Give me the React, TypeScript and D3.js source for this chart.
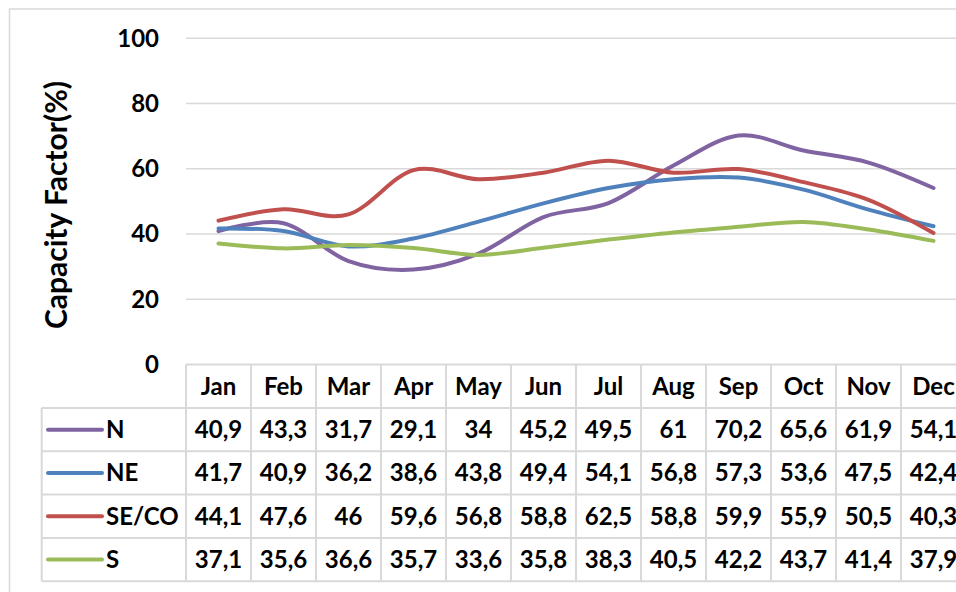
import React from 'react';
import * as d3 from 'd3';

const months = ['Jan', 'Feb', 'Mar', 'Apr', 'May', 'Jun', 'Jul', 'Aug', 'Sep', 'Oct', 'Nov', 'Dec'];
const seriesNames = ['N', 'NE', 'SE/CO', 'S'];
const nValues = [40.9, 43.3, 31.7, 29.1, 34, 45.2, 49.5, 61, 70.2, 65.6, 61.9, 54.1];
const neValues = [41.7, 40.9, 36.2, 38.6, 43.8, 49.4, 54.1, 56.8, 57.3, 53.6, 47.5, 42.4];
const secoValues = [44.1, 47.6, 46, 59.6, 56.8, 58.8, 62.5, 58.8, 59.9, 55.9, 50.5, 40.3];
const sValues = [37.1, 35.6, 36.6, 35.7, 33.6, 35.8, 38.3, 40.5, 42.2, 43.7, 41.4, 37.9];
const seriesColors = ['#8064A2', '#4F81BD', '#C0504D', '#9BBB59'];
const yTicks = [0, 20, 40, 60, 80, 100];
const yTitle = 'Capacity Factor(%)';

const W = 956;
const H = 592;
const FONT = 'Lato, "Open Sans", sans-serif';

export default function App() {
  const seriesValues = [nValues, neValues, secoValues, sValues];
  const x = d3.scaleBand<string>().domain(months).range([186, 966]);
  const y = d3.scaleLinear().domain([0, 100]).range([364.5, 38.3]);
  const rowTop = 364.5;
  const headerH = 43.5;
  const rowH = 43.3;
  const legendLeft = 41.7;
  const tableRight = 966;
  const tableBottom = rowTop + headerH + rowH * seriesNames.length;
  const grid = '#D9D9D9';

  const line = d3
    .line<number>()
    .x((_, i) => (x(months[i]) as number) + x.bandwidth() / 2)
    .y((d) => y(d))
    .curve(d3.curveCardinal.tension(0));

  const fmt = (v: number) => String(v).replace('.', ',');

  return (
    <svg
      width={W}
      height={H}
      style={{ position: 'absolute', left: 0, top: 0, background: '#fff' }}
      fontFamily={FONT}
      fontWeight="bold"
    >
      <rect x={0} y={0} width={W} height={H} fill="#fff" />
      <rect x={9.5} y={9} width={1200} height={1200} fill="none" stroke={grid} strokeWidth={1.5} />

      {yTicks.map((t) => (
        <g key={t}>
          {t > 0 && (
            <line x1={186} x2={tableRight} y1={y(t)} y2={y(t)} stroke={grid} strokeWidth={1.5} />
          )}
          <text x={159} y={y(t)} dy="0.35em" textAnchor="end" fontSize={24} fill="#000">
            {t}
          </text>
        </g>
      ))}

      <text
        transform={`translate(67,205) rotate(-90)`}
        textAnchor="middle"
        fontSize={30}
        fill="#000"
      >
        {yTitle}
      </text>

      {seriesValues.map((vals, si) => (
        <path
          key={si}
          d={line(vals) || ''}
          fill="none"
          stroke={seriesColors[si]}
          strokeWidth={4}
          strokeLinecap="round"
          strokeLinejoin="round"
        />
      ))}

      {/* table grid */}
      <line x1={186} x2={tableRight} y1={rowTop} y2={rowTop} stroke={grid} strokeWidth={2} />
      {seriesNames.map((_, i) => (
        <line
          key={'h' + i}
          x1={legendLeft}
          x2={tableRight}
          y1={rowTop + headerH + rowH * i}
          y2={rowTop + headerH + rowH * i}
          stroke={grid}
          strokeWidth={2}
        />
      ))}
      <line x1={legendLeft} x2={tableRight} y1={tableBottom} y2={tableBottom} stroke={grid} strokeWidth={2} />
      <line x1={legendLeft} x2={legendLeft} y1={rowTop + headerH} y2={tableBottom} stroke={grid} strokeWidth={2} />
      {months.map((m) => (
        <line
          key={'v' + m}
          x1={x(m) as number}
          x2={x(m) as number}
          y1={rowTop}
          y2={tableBottom}
          stroke={grid}
          strokeWidth={2}
        />
      ))}

      {months.map((m) => (
        <text
          key={'m' + m}
          x={(x(m) as number) + x.bandwidth() / 2}
          y={rowTop + headerH / 2}
          dy="0.35em"
          textAnchor="middle"
          fontSize={24}
          fill="#000"
        >
          {m}
        </text>
      ))}

      {seriesNames.map((name, si) => {
        const cy = rowTop + headerH + rowH * si + rowH / 2;
        return (
          <g key={'r' + name}>
            <line
              x1={48}
              x2={102}
              y1={cy}
              y2={cy}
              stroke={seriesColors[si]}
              strokeWidth={4}
              strokeLinecap="round"
            />
            <text x={106} y={cy} dy="0.35em" fontSize={24} fill="#000">
              {name}
            </text>
            {seriesValues[si].map((v, i) => (
              <text
                key={i}
                x={(x(months[i]) as number) + x.bandwidth() / 2}
                y={cy}
                dy="0.35em"
                textAnchor="middle"
                fontSize={24}
                fill="#000"
              >
                {fmt(v)}
              </text>
            ))}
          </g>
        );
      })}
    </svg>
  );
}
